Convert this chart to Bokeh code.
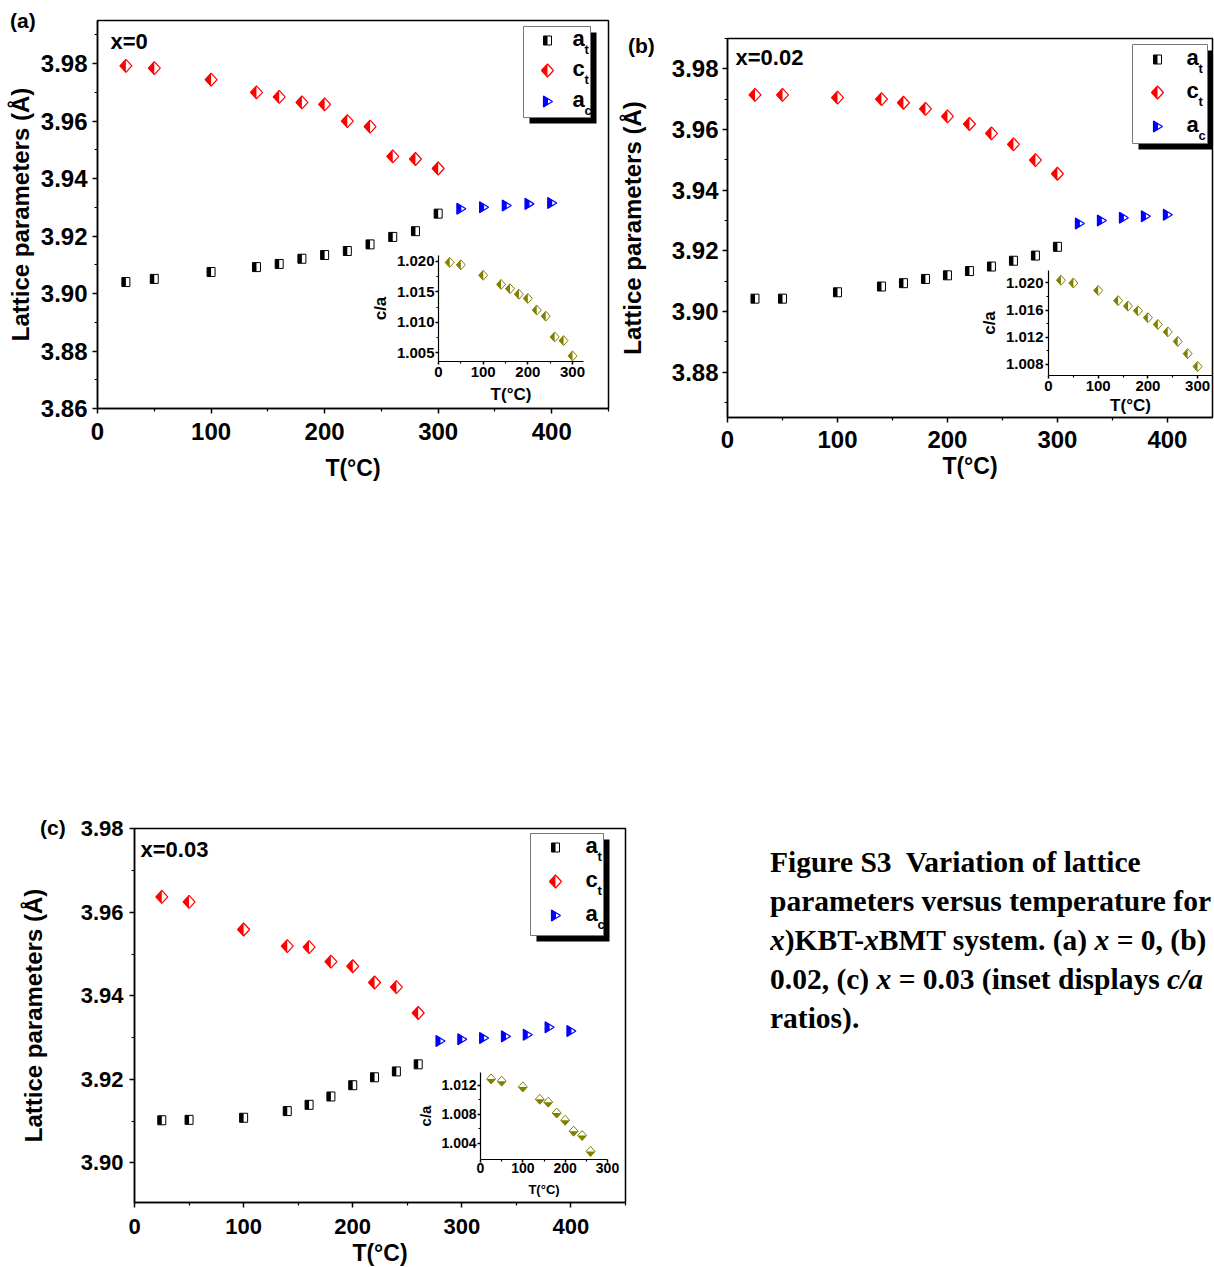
from bokeh.plotting import figure
from bokeh.models import Column, Div, Range1d, FixedTicker, PrintfTickFormatter, Label
from bokeh.embed import file_html
from bokeh.resources import INLINE

FONT = "Liberation Sans"

# ---------------- data ----------------
T_TET_A = [25, 50, 100, 140, 160, 180, 200, 220, 240, 260, 280, 300]
AT_A = [3.9040, 3.9051, 3.9075, 3.9092, 3.9103, 3.9121, 3.9134, 3.9148, 3.9171, 3.9197, 3.9217, 3.9278]
CT_A = [3.9792, 3.9784, 3.9744, 3.9700, 3.9684, 3.9665, 3.9658, 3.9600, 3.9581, 3.9477, 3.9468, 3.9435]
T_CUB_A = [320, 340, 360, 380, 400]
AC_A = [3.9295, 3.9300, 3.9306, 3.9312, 3.9315]
CA_A = [1.0198, 1.0194, 1.0177, 1.0162, 1.0155, 1.0146, 1.0139, 1.0120, 1.0110, 1.0076, 1.0070, 1.0045]

T_TET_B = [25, 50, 100, 140, 160, 180, 200, 220, 240, 260, 280, 300]
AT_B = [3.9042, 3.9042, 3.9063, 3.9082, 3.9093, 3.9107, 3.9119, 3.9133, 3.9148, 3.9167, 3.9184, 3.9213]
CT_B = [3.9714, 3.9714, 3.9705, 3.9700, 3.9688, 3.9668, 3.9643, 3.9618, 3.9587, 3.9551, 3.9499, 3.9454]
T_CUB_B = [320, 340, 360, 380, 400]
AC_B = [3.9290, 3.9300, 3.9309, 3.9314, 3.9319]
CA_B = [1.0204, 1.0200, 1.0189, 1.0174, 1.0166, 1.0159, 1.0149, 1.0139, 1.0128, 1.0114, 1.0096, 1.0077]

T_TET_C = [25, 50, 100, 140, 160, 180, 200, 220, 240, 260]
AT_C = [3.9102, 3.9103, 3.9108, 3.9124, 3.9139, 3.9159, 3.9186, 3.9205, 3.9219, 3.9236]
CT_C = [3.9637, 3.9625, 3.9559, 3.9519, 3.9517, 3.9482, 3.9471, 3.9432, 3.9421, 3.9359]
T_CUB_C = [280, 300, 320, 340, 360, 380, 400]
AC_C = [3.9292, 3.9296, 3.9299, 3.9303, 3.9307, 3.9325, 3.9316]
CA_C = [1.0129, 1.0126, 1.0118, 1.0101, 1.0097, 1.0082, 1.0072, 1.0057, 1.0051, 1.0029]

X_TICKS = [0, 100, 200, 300, 400]
X_MINOR = [50, 150, 250, 350, 450]
Y_TICKS_A = [3.86, 3.88, 3.90, 3.92, 3.94, 3.96, 3.98]
Y_MINOR_A = [3.87, 3.89, 3.91, 3.93, 3.95, 3.97, 3.99]
Y_TICKS_B = [3.88, 3.90, 3.92, 3.94, 3.96, 3.98]
Y_MINOR_B = [3.87, 3.89, 3.91, 3.93, 3.95, 3.97, 3.99]
Y_TICKS_C = [3.90, 3.92, 3.94, 3.96, 3.98]
Y_MINOR_C = [3.91, 3.93, 3.95, 3.97]
IN_X_TICKS = [0, 100, 200, 300]
IN_X_MINOR = [50, 150, 250]
IN_Y_TICKS_A = [1.005, 1.010, 1.015, 1.020]
IN_Y_MINOR_A = [1.0075, 1.0125, 1.0175]
IN_Y_TICKS_B = [1.008, 1.012, 1.016, 1.020]
IN_Y_MINOR_B = [1.010, 1.014, 1.018]
IN_Y_TICKS_C = [1.004, 1.008, 1.012]
IN_Y_MINOR_C = [1.006, 1.010]

LABELS = ["a", "c", "a"]
SUBS = ["t", "t", "c"]
PANEL_TAGS = ["x=0", "x=0.02", "x=0.03"]

# ---------------- marker shapes (pixels, y up) ----------------
SQ_FULL = [(-4, -4.5), (4, -4.5), (4, 4.5), (-4, 4.5)]
SQ_HALF = [(-4, -4.5), (0, -4.5), (0, 4.5), (-4, 4.5)]
DI_FULL = [(0, 6.5), (6, 0), (0, -6.5), (-6, 0)]
DI_HALF = [(0, 6.5), (0, -6.5), (-6, 0)]
TR_FULL = [(-4, 5.5), (5, 0), (-4, -5.5)]
TR_HALF = [(-4, 5.5), (0.5, 2.75), (0.5, -2.75), (-4, -5.5)]
DS_FULL = [(0, 5), (4.5, 0), (0, -5), (-4.5, 0)]
DS_LEFT = [(0, 5), (0, -5), (-4.5, 0)]
DS_BOTTOM = [(-4.5, 0), (4.5, 0), (0, -5)]

RED = "#FF0000"
BLUE = "#0000FF"
OLIVE = "#808000"
BLACK = "#000000"

LEFT_PAD = 127   # left border used by every figure
RIGHT_PAD = 17   # right border used by every figure
DIV_PAD = 5      # inner offset of a Div's content


def place(x, y):
    # absolute position of an element's top-left corner, in page pixels
    return {"position": "absolute", "left": f"{x}px", "top": f"{y}px"}


def scales(g):
    fx, fy, W, H = g["frame"]
    x0, x1 = g["xr"]
    y0, y1 = g["yr"]
    return (x1 - x0) / W, (y1 - y0) / H


def to_data(g, px, py):
    fx, fy, W, H = g["frame"]
    x0, x1 = g["xr"]
    y0, y1 = g["yr"]
    return x0 + (px - fx) / W * (x1 - x0), y1 - (py - fy) / H * (y1 - y0)


def draw_markers(p, g, xs, ys, full, half, color, lw=1.2):
    kx, ky = scales(g)
    fxs = [[x + dx * kx for dx, dy in full] for x in xs]
    fys = [[y + dy * ky for dx, dy in full] for y in ys]
    hxs = [[x + dx * kx for dx, dy in half] for x in xs]
    hys = [[y + dy * ky for dx, dy in half] for y in ys]
    p.patches(fxs, fys, fill_color="white", line_color=None)
    p.patches(hxs, hys, fill_color=color, line_color=None)
    p.patches(fxs, fys, fill_color=None, line_color=color, line_width=lw)


def style_axis(ax, ticks, minor, fmt, fsize, standoff, label, lsize, lstandoff, tick_out=5):
    ax.ticker = FixedTicker(ticks=ticks, minor_ticks=minor)
    ax.formatter = PrintfTickFormatter(format=fmt)
    ax.major_label_text_font = FONT
    ax.major_label_text_font_style = "bold"
    ax.major_label_text_font_size = fsize
    ax.major_label_text_color = "black"
    ax.major_label_standoff = standoff
    ax.axis_label = label
    ax.axis_label_text_font = FONT
    ax.axis_label_text_font_style = "bold"
    ax.axis_label_text_font_size = lsize
    ax.axis_label_text_color = "black"
    ax.axis_label_standoff = lstandoff
    ax.axis_line_width = 1.5
    ax.axis_line_color = "black"
    ax.major_tick_line_width = 1.5
    ax.minor_tick_line_width = 1.2
    ax.major_tick_in = 0
    ax.major_tick_out = tick_out
    ax.minor_tick_in = 0
    ax.minor_tick_out = max(2, tick_out - 2)


def make_fig(g, transparent=False):
    fx, fy, W, H = g["frame"]
    T, B = g["tb"]
    p = figure(x_range=Range1d(*g["xr"]), y_range=Range1d(*g["yr"]),
               frame_width=W, frame_height=H,
               min_border_left=LEFT_PAD, min_border_top=T, min_border_right=RIGHT_PAD,
               min_border_bottom=B,
               output_backend="svg", toolbar_location=None, tools="",
               styles=place(fx - LEFT_PAD, fy - T))
    p.title.visible = False
    p.grid.visible = False
    p.border_fill_alpha = 0
    if transparent:
        p.background_fill_alpha = 0
        p.outline_line_color = None
    else:
        p.background_fill_color = "white"
        p.outline_line_color = "black"
        p.outline_line_width = 1.5
    return p


MAIN = [
    dict(frame=(97, 20, 511, 388), tb=(12, 82), xr=(0, 450), yr=(3.86, 3.995),
         yt=Y_TICKS_A, ym=Y_MINOR_A, ys=5, yls=4, xs=9, xls=12, fs="24px", ls="24px", xl="23px",
         tag=(110, 41), legend=(523, 26, 590, 117), lx=547, rows=(40, 70, 101), tx=572),
    dict(frame=(727, 38, 485, 379), tb=(30, 76), xr=(0, 441), yr=(3.865, 3.990),
         yt=Y_TICKS_B, ym=Y_MINOR_B, ys=4, yls=23, xs=8, xls=2, fs="24px", ls="24px", xl="23px",
         tag=(735, 57), legend=(1132, 44, 1207, 143), lx=1157, rows=(59, 92, 126), tx=1186),
    dict(frame=(134, 828, 491, 374), tb=(28, 78), xr=(0, 450), yr=(3.8905, 3.9801),
         yt=Y_TICKS_C, ym=Y_MINOR_C, ys=6, yls=31, xs=11, xls=3, fs="22px", ls="24px", xl="23px",
         tag=(140, 849), legend=(530, 833, 603, 935), lx=555, rows=(847, 881, 915), tx=585),
]

INSETS = [
    dict(frame=(438, 255, 145, 106), tb=(5, 56), xr=(0, 324.6), yr=(1.00358, 1.02093),
         yt=IN_Y_TICKS_A, ym=IN_Y_MINOR_A, fmt="%.3f", fs="15px", ls="17px", tls="17px",
         xs=2, xls=5, ys=1, yls=4),
    dict(frame=(1048, 270, 164, 105), tb=(8, 56), xr=(0, 330), yr=(1.00638, 1.02184),
         yt=IN_Y_TICKS_B, ym=IN_Y_MINOR_B, fmt="%.3f", fs="15px", ls="17px", tls="17px",
         xs=2, xls=2, ys=2, yls=4),
    dict(frame=(480, 1072, 127, 87), tb=(6, 50), xr=(0, 300), yr=(1.00179, 1.01379),
         yt=IN_Y_TICKS_C, ym=IN_Y_MINOR_C, fmt="%.3f", fs="14px", ls="15px", tls="13px",
         xs=0, xls=6, ys=1, yls=4),
]

SERIES = [
    (T_TET_A, AT_A, CT_A, T_CUB_A, AC_A, CA_A, DS_LEFT),
    (T_TET_B, AT_B, CT_B, T_CUB_B, AC_B, CA_B, DS_LEFT),
    (T_TET_C, AT_C, CT_C, T_CUB_C, AC_C, CA_C, DS_BOTTOM),
]

children = []
for i in range(3):
    g = MAIN[i]
    tt, at, ct, tc, ac, ca, ins_half = SERIES[i]
    p = make_fig(g)
    style_axis(p.xaxis[0], X_TICKS, X_MINOR, "%d", g["fs"], g["xs"], "T(°C)", g["xl"], g["xls"])
    style_axis(p.yaxis[0], g["yt"], g["ym"], "%.2f", g["fs"], g["ys"], "Lattice parameters (Å)", g["ls"], g["yls"])

    draw_markers(p, g, tt, at, SQ_FULL, SQ_HALF, BLACK, lw=1.0)
    draw_markers(p, g, tt, ct, DI_FULL, DI_HALF, RED)
    draw_markers(p, g, tc, ac, TR_FULL, TR_HALF, BLUE)

    # composition tag
    tx, ty = to_data(g, *g["tag"])
    p.add_layout(Label(x=tx, y=ty, text=PANEL_TAGS[i], text_font=FONT, text_font_style="bold",
                       text_font_size="22px", text_baseline="middle", text_align="left",
                       text_color="black"))

    # legend with shadow
    lx0, ly0, lx1, ly1 = g["legend"]
    sx0, sy0 = to_data(g, lx0 + 6, ly0 + 6)
    sx1, sy1 = to_data(g, lx1 + 6, ly1 + 6)
    p.quad(left=[sx0], right=[sx1], top=[sy0], bottom=[sy1], fill_color="black", line_color=None)
    bx0, by0 = to_data(g, lx0, ly0)
    bx1, by1 = to_data(g, lx1, ly1)
    p.quad(left=[bx0], right=[bx1], top=[by0], bottom=[by1], fill_color="white",
           line_color="#777777", line_width=1)
    shapes = [(SQ_FULL, SQ_HALF, BLACK), (DI_FULL, DI_HALF, RED), (TR_FULL, TR_HALF, BLUE)]
    for k, row in enumerate(g["rows"]):
        mx, my = to_data(g, g["lx"], row)
        full, half, col = shapes[k]
        draw_markers(p, g, [mx], [my], full, half, col, lw=1.0 if k == 0 else 1.2)
        ax_, ay_ = to_data(g, g["tx"], row - 2)
        p.add_layout(Label(x=ax_, y=ay_, text=LABELS[k], text_font=FONT, text_font_style="bold",
                           text_font_size="22px", text_baseline="middle", text_align="left",
                           text_color="black"))
        sx_, sy_ = to_data(g, g["tx"] + 12, row + 9)
        p.add_layout(Label(x=sx_, y=sy_, text=SUBS[k], text_font=FONT, text_font_style="bold",
                           text_font_size="13px", text_baseline="middle", text_align="left",
                           text_color="black"))
    children.append(p)

    # inset
    h = INSETS[i]
    q = make_fig(h, transparent=True)
    style_axis(q.xaxis[0], IN_X_TICKS, IN_X_MINOR, "%d", h["fs"], h["xs"], "T(°C)", h["tls"], h["xls"], tick_out=3)
    style_axis(q.yaxis[0], h["yt"], h["ym"], h["fmt"], h["fs"], h["ys"], "c/a", h["ls"], h["yls"], tick_out=3)
    q.xaxis[0].axis_line_width = 1.2
    q.yaxis[0].axis_line_width = 1.2
    draw_markers(q, h, tt, ca, DS_FULL, ins_half, OLIVE, lw=1.0)
    children.append(q)

# panel letters
for txt, (px, py) in zip(["(a)", "(b)", "(c)"], [(10, 9), (628, 34), (40, 816)]):
    d = Div(text=f'<div style="font-family:\'Liberation Sans\';font-weight:bold;font-size:21px;'
                 f'line-height:24px;color:black;white-space:nowrap">{txt}</div>',
            width=40, height=26, styles=place(px - DIV_PAD, py - DIV_PAD))
    children.append(d)

cap_style = place(770 - DIV_PAD, 843 - DIV_PAD)
cap_style["overflow"] = "hidden"
caption = Div(
    text=('<div style="font-family:\'Liberation Serif\';font-weight:bold;font-size:29.5px;'
          'line-height:39px;color:black;white-space:nowrap">'
          'Figure S3&nbsp; Variation of lattice<br>'
          'parameters versus temperature for<br>'
          '<i>x</i>)KBT-<i>x</i>BMT system. (a) <i>x</i> = 0, (b)<br>'
          '0.02, (c) <i>x</i> = 0.03 (inset displays <i>c/a</i><br>'
          'ratios).</div>'),
    width=444, height=210, styles=cap_style)
children.append(caption)

root = Column(children=children, width=1214, height=1267,
              styles={"position": "relative", "overflow": "hidden"})

open("out.html", "w").write(file_html(root, INLINE, title="Lattice parameters"))
